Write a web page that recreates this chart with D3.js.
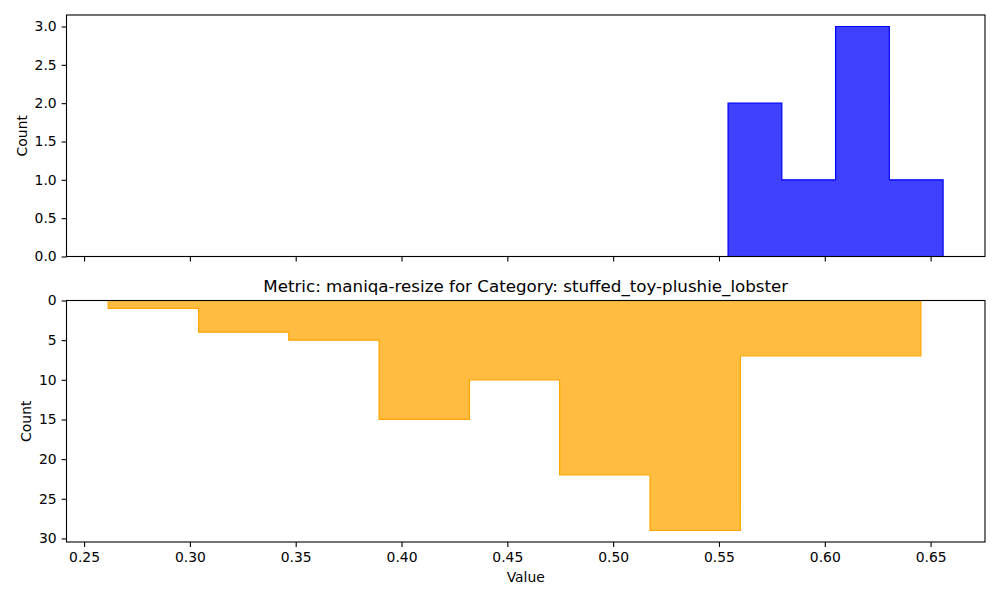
<!DOCTYPE html>
<html>
<head>
<meta charset="utf-8">
<script src="https://cdn.jsdelivr.net/npm/d3@7"></script>
<style>
  body { margin: 0; background: #fff; }
  svg text { font-family: "DejaVu Sans", sans-serif; fill: #000; }
</style>
</head>
<body>
<div id="chart"></div>
<script>
// ---------------- data ----------------
const topEdges = [0.5543, 0.5797, 0.6051, 0.6305, 0.6559];
const topCounts = [2, 1, 3, 1];
const bottomEdges = [0.2614, 0.3041, 0.3467, 0.3894, 0.4321, 0.4747, 0.5174, 0.5601, 0.6027, 0.6454];
const bottomCounts = [1, 4, 5, 15, 10, 22, 29, 7, 7];
const xTicks = [0.25, 0.30, 0.35, 0.40, 0.45, 0.50, 0.55, 0.60, 0.65];
const topYTicks = [0, 0.5, 1.0, 1.5, 2.0, 2.5, 3.0];
const bottomYTicks = [0, 5, 10, 15, 20, 25, 30];
const titleText = "Metric: maniqa-resize for Category: stuffed_toy-plushie_lobster";

// ---------------- layout ----------------
const width = 1000, height = 600;
const left = 66.5, right = 985;
const topPanel = { y0: 15, y1: 256.5 };
const botPanel = { y0: 300.5, y1: 542 };
const tickLen = 4.9;

const svg = d3.select("#chart").append("svg")
  .attr("width", width)
  .attr("height", height);

const x = d3.scaleLinear().domain([0.2417, 0.6757]).range([left, right]);

const yTop = d3.scaleLinear().domain([0, 3.15]).range([topPanel.y1, topPanel.y0]);
const yBot = d3.scaleLinear().domain([0, 30.45]).range([botPanel.y0, botPanel.y1]);

// step outline of a histogram
function stepPoints(edges, counts) {
  const pts = [[edges[0], 0]];
  counts.forEach(function (c, i) {
    pts.push([edges[i], c]);
    pts.push([edges[i + 1], c]);
  });
  pts.push([edges[edges.length - 1], 0]);
  return pts;
}

function drawPanel(panel, yScale, edges, counts, color, id) {
  svg.append("clipPath").attr("id", id)
    .append("rect")
    .attr("x", left).attr("y", panel.y0)
    .attr("width", right - left).attr("height", panel.y1 - panel.y0);

  const line = d3.line()
    .x(function (d) { return x(d[0]); })
    .y(function (d) { return yScale(d[1]); });

  svg.append("path")
    .attr("clip-path", "url(#" + id + ")")
    .attr("d", line(stepPoints(edges, counts)) + "Z")
    .style("fill", color)
    .style("fill-opacity", 0.75)
    .style("stroke", color)
    .style("stroke-width", 1.2)
    .style("stroke-linejoin", "miter");

  svg.append("rect")
    .attr("x", left).attr("y", panel.y0)
    .attr("width", right - left).attr("height", panel.y1 - panel.y0)
    .style("fill", "none")
    .style("stroke", "#000")
    .style("stroke-width", 1.1);
}

drawPanel(topPanel, yTop, topEdges, topCounts, "blue", "clipTop");
drawPanel(botPanel, yBot, bottomEdges, bottomCounts, "orange", "clipBot");

// ---------------- axes ----------------
function styleAxis(g) {
  g.select(".domain").remove();
  g.selectAll(".tick line").style("stroke", "#000").style("stroke-width", 1.1);
  g.selectAll(".tick text").style("font-size", "13.9px").style("font-family", "DejaVu Sans, sans-serif");
}

svg.append("g")
  .attr("transform", "translate(" + left + ",0)")
  .call(d3.axisLeft(yTop).tickValues(topYTicks).tickFormat(d3.format(".1f"))
    .tickSizeOuter(0).tickSize(tickLen).tickPadding(4.9))
  .call(styleAxis);

svg.append("g")
  .attr("transform", "translate(0," + topPanel.y1 + ")")
  .call(d3.axisBottom(x).tickValues(xTicks).tickFormat("")
    .tickSizeOuter(0).tickSize(tickLen))
  .call(styleAxis);

svg.append("g")
  .attr("transform", "translate(" + left + ",0)")
  .call(d3.axisLeft(yBot).tickValues(bottomYTicks).tickFormat(d3.format("d"))
    .tickSizeOuter(0).tickSize(tickLen).tickPadding(4.9))
  .call(styleAxis);

svg.append("g")
  .attr("transform", "translate(0," + botPanel.y1 + ")")
  .call(d3.axisBottom(x).tickValues(xTicks).tickFormat(d3.format(".2f"))
    .tickSizeOuter(0).tickSize(tickLen).tickPadding(4.9))
  .call(styleAxis);

// ---------------- labels ----------------
svg.append("text")
  .attr("transform", "translate(27," + ((topPanel.y0 + topPanel.y1) / 2) + ") rotate(-90)")
  .attr("text-anchor", "middle")
  .style("font-size", "13.9px")
  .text("Count");

svg.append("text")
  .attr("transform", "translate(31," + ((botPanel.y0 + botPanel.y1) / 2) + ") rotate(-90)")
  .attr("text-anchor", "middle")
  .style("font-size", "13.9px")
  .text("Count");

svg.append("text")
  .attr("x", (left + right) / 2)
  .attr("y", 582)
  .attr("text-anchor", "middle")
  .style("font-size", "13.9px")
  .text("Value");

svg.append("text")
  .attr("x", (left + right) / 2)
  .attr("y", botPanel.y0 - 8.3)
  .attr("text-anchor", "middle")
  .style("font-size", "16.7px")
  .text(titleText);
</script>
</body>
</html>
